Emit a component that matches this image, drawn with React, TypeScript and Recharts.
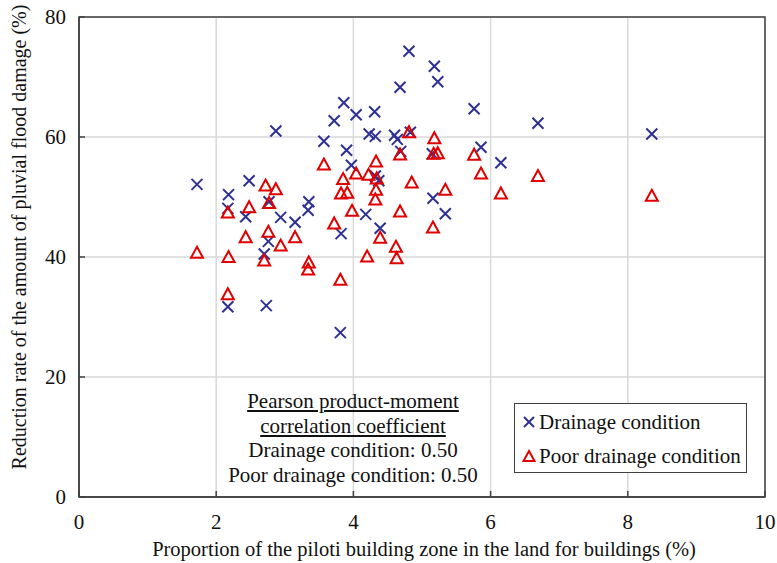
import {
  CartesianGrid,
  Legend,
  ReferenceArea,
  Scatter,
  ScatterChart,
  XAxis,
  YAxis,
} from "recharts";

// proportion of piloti zone (%) / reduction rate (%)
const drainageX = [
  1.72, 2.18, 2.17, 2.17, 2.48, 2.43, 2.77, 2.76, 2.7, 2.73, 2.87, 2.94, 3.15, 3.35, 3.34, 3.57,
  3.72, 3.86, 3.82, 3.81, 3.9, 3.97, 4.04, 4.31, 4.23, 4.32, 4.32, 4.37, 4.18, 4.39, 4.6, 4.64,
  4.68, 4.69, 4.81, 4.83, 5.18, 5.23, 5.15, 5.16, 5.34, 5.76, 5.86, 6.15, 6.69, 8.35,
];
const drainageY = [
  52.1, 50.4, 48.1, 31.7, 52.7, 46.7, 49.2, 42.6, 40.5, 31.9, 61.0, 46.6, 45.8, 49.2, 47.8, 59.3,
  62.7, 65.7, 43.9, 27.4, 57.8, 55.3, 63.7, 64.2, 60.5, 60.1, 53.5, 52.7, 47.1, 44.8, 60.3, 59.6,
  68.3, 57.6, 74.3, 60.8, 71.8, 69.2, 57.2, 49.8, 47.2, 64.7, 58.3, 55.7, 62.3, 60.5,
];
const poorX = [
  1.72, 2.18, 2.17, 2.17, 2.48, 2.43, 2.72, 2.87, 2.77, 2.76, 2.7, 2.94, 3.15, 3.35, 3.34, 3.57,
  3.72, 3.85, 3.82, 3.91, 3.81, 3.98, 4.04, 4.22, 4.2, 4.33, 4.34, 4.33, 4.32, 4.39, 4.62, 4.63,
  4.68, 4.68, 4.81, 4.85, 5.18, 5.17, 5.23, 5.16, 5.34, 5.76, 5.86, 6.15, 6.69, 8.35,
];
const poorY = [
  40.7, 40.0, 47.4, 33.8, 48.3, 43.3, 51.9, 51.3, 49.0, 44.2, 39.4, 41.9, 43.3, 39.1, 37.9, 55.4,
  45.6, 53.0, 50.6, 50.7, 36.2, 47.7, 53.9, 53.7, 40.1, 55.9, 53.1, 51.2, 49.6, 43.2, 41.7, 39.8,
  57.1, 47.6, 60.8, 52.4, 59.8, 57.2, 57.3, 44.9, 51.2, 57.05, 53.9, 50.6, 53.5, 50.2,
];

const xTicks = [0, 2, 4, 6, 8, 10];
const yTicks = [0, 20, 40, 60, 80];
const noteLines = [
  "Drainage condition: 0.50",
  "Poor drainage condition: 0.50",
];

const drainage = drainageX.map((x, i) => ({ x, y: drainageY[i] }));
const poor = poorX.map((x, i) => ({ x, y: poorY[i] }));

const BLUE = "#2e3192";
const RED = "#e00000";
const AXIS = "#404040";
const TEXT = "#111";
const FONT = '"Liberation Serif", "Times New Roman", serif';

const Cross = ({ cx, cy }: any) => (
  <path
    d={`M${cx - 5.5},${cy - 5.5}L${cx + 5.5},${cy + 5.5}M${cx + 5.5},${cy - 5.5}L${cx - 5.5},${cy + 5.5}`}
    stroke={BLUE}
    strokeWidth={2}
  />
);

const Tri = ({ cx, cy }: any) => (
  <path
    d={`M${cx},${cy - 6}L${cx + 6},${cy + 5}L${cx - 6},${cy + 5}Z`}
    fill="none"
    stroke={RED}
    strokeWidth={2}
  />
);

const XTick = (p: any) => (
  <g>
    <line x1={p.x} x2={p.x} y1={p.y} y2={p.y - 6} stroke={AXIS} strokeWidth={1.5} />
    <text x={p.x} y={p.y + 32} textAnchor="middle" fontSize={21} fontFamily={FONT} fill={TEXT}>
      {p.payload.value}
    </text>
  </g>
);

const YTick = (p: any) => (
  <g>
    <line x1={p.x} x2={p.x + 6} y1={p.y} y2={p.y} stroke={AXIS} strokeWidth={1.5} />
    <text x={p.x - 13} y={p.y + 7} textAnchor="end" fontSize={21} fontFamily={FONT} fill={TEXT}>
      {p.payload.value}
    </text>
  </g>
);

function LegendBox() {
  return (
    <div
      style={{
        border: `1.5px solid ${AXIS}`,
        background: "#fff",
        width: 233,
        height: 70,
        boxSizing: "border-box",
        fontFamily: FONT,
        fontSize: 21,
        color: TEXT,
        padding: "1px 0 0 7px",
        lineHeight: "34px",
        whiteSpace: "nowrap",
      }}
    >
      <div style={{ display: "flex", alignItems: "center" }}>
        <svg width={14} height={14} style={{ marginRight: 3 }}>
          <path d="M2,2L12,12M12,2L2,12" stroke={BLUE} strokeWidth={2} />
        </svg>
        Drainage condition
      </div>
      <div style={{ display: "flex", alignItems: "center" }}>
        <svg width={14} height={14} style={{ marginRight: 3 }}>
          <path d="M7,2L12.5,12L1.5,12Z" fill="none" stroke={RED} strokeWidth={2} />
        </svg>
        Poor drainage condition
      </div>
    </div>
  );
}

export default function App() {
  return (
    <div
      style={{
        position: "absolute",
        left: 0,
        top: 0,
        width: 777,
        height: 563,
        background: "#fff",
        fontFamily: FONT,
      }}
    >
      <ScatterChart width={777} height={563} margin={{ top: 17, right: 12, bottom: 0, left: 0 }}>
        <CartesianGrid stroke="#d9d9d9" strokeWidth={1.5} />
        <XAxis
          type="number"
          dataKey="x"
          domain={[0, 10]}
          ticks={xTicks}
          height={66}
          stroke={AXIS}
          strokeWidth={1.5}
          tickLine={false}
          tickSize={0}
          tickMargin={0}
          tick={XTick}
          interval={0}
          label={{
            value: "Proportion of the piloti building zone in the land for buildings (%)",
            content: ({ value }: any) => (
              <text x={424} y={556} textAnchor="middle" fontSize={20.5} fontFamily={FONT} fill={TEXT}>
                {value}
              </text>
            ),
          }}
        />
        <YAxis
          type="number"
          dataKey="y"
          domain={[0, 80]}
          ticks={yTicks}
          width={79}
          stroke={AXIS}
          strokeWidth={1.5}
          tickLine={false}
          tickSize={0}
          tickMargin={0}
          tick={YTick}
          interval={0}
          label={{
            value: "Reduction rate of the amount of pluvial flood damage (%)",
            content: ({ value }: any) => (
              <text
                x={26}
                y={237}
                transform="rotate(-90, 26, 237)"
                textAnchor="middle"
                fontSize={20}
                fontFamily={FONT}
                fill={TEXT}
              >
                {value}
              </text>
            ),
          }}
        />
        <ReferenceArea x1={0} x2={10} y1={0} y2={80} fill="none" stroke={AXIS} strokeWidth={1.5} />
        <Scatter name="Drainage condition" data={drainage} shape={Cross} isAnimationActive={false} />
        <Scatter name="Poor drainage condition" data={poor} shape={Tri} isAnimationActive={false} />
        <Legend
          layout="horizontal"
          verticalAlign="middle"
          align="center"
          content={() => <LegendBox />}
          wrapperStyle={{ left: 514, top: 403, width: 233 }}
        />
      </ScatterChart>
      <div
        style={{
          position: "absolute",
          left: 193,
          top: 389,
          width: 320,
          textAlign: "center",
          fontSize: 21,
          lineHeight: "24.5px",
          color: TEXT,
          whiteSpace: "nowrap",
        }}
      >
        <div style={{ textDecoration: "underline" }}>Pearson product-moment</div>
        <div style={{ textDecoration: "underline" }}>correlation coefficient</div>
        {noteLines.map((t) => (
          <div key={t}>{t}</div>
        ))}
      </div>
    </div>
  );
}
